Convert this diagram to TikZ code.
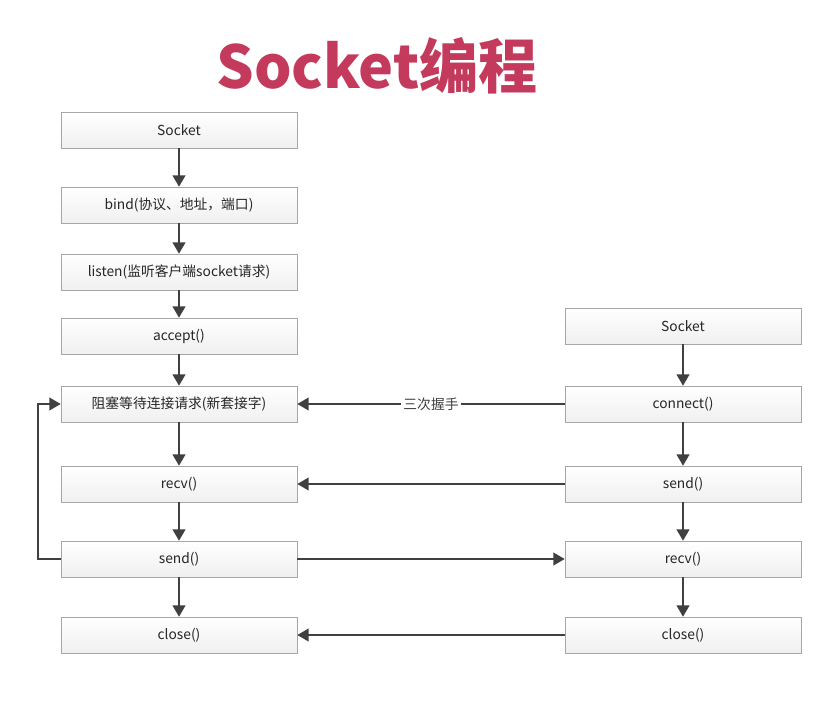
\documentclass[tikz,border=0pt]{standalone}
\usepackage{fontspec}
\setmainfont{Noto Sans CJK SC}
\usetikzlibrary{arrows.meta,shadows}
\definecolor{titlered}{RGB}{196,58,92}
\definecolor{linegray}{RGB}{64,64,64}
\tikzset{
  box/.style={draw=gray!70, top color=white, bottom color=gray!12,
    minimum width=5.9cm, minimum height=0.9cm, inner sep=0pt,
    font=\fontsize{9.8}{11}\selectfont, text=black!85,
    drop shadow={shadow xshift=0.3pt, shadow yshift=-0.6pt, opacity=0.25}},
  arr/.style={draw=linegray, line width=1.2pt,
    -{Triangle[length=8pt,width=9pt]}}
}
\begin{document}
\begin{tikzpicture}[x=0.025cm, y=-0.025cm]
  \useasboundingbox (0,0) rectangle (840,703);

  % Titel
  \node[text=titlered, font=\fontsize{42}{42}\selectfont\bfseries] (title) at (377,66) {Socket编程};

  % Server
  \node[box] (ssock)   at (179,130) {Socket};
  \node[box] (sbind)   at (179,205) {bind(协议、地址，端口)};
  \node[box] (slisten) at (179,272) {listen(监听客户端socket请求)};
  \node[box] (saccept) at (179,336) {accept()};
  \node[box] (sblock)  at (179,404) {阻塞等待连接请求(新套接字)};
  \node[box] (srecv)   at (179,484) {recv()};
  \node[box] (ssend)   at (179,559) {send()};
  \node[box] (sclose)  at (179,635) {close()};

  % Client
  \node[box] (csock)    at (683,326) {Socket};
  \node[box] (cconnect) at (683,404) {connect()};
  \node[box] (csend)    at (683,484) {send()};
  \node[box] (crecv)    at (683,559) {recv()};
  \node[box] (cclose)   at (683,635) {close()};

  % Server Ablauf
  \draw[arr] (ssock) -- (sbind);
  \draw[arr] (sbind) -- (slisten);
  \draw[arr] (slisten) -- (saccept);
  \draw[arr] (saccept) -- (sblock);
  \draw[arr] (sblock) -- (srecv);
  \draw[arr] (srecv) -- (ssend);
  \draw[arr] (ssend) -- (sclose);

  % Client Ablauf
  \draw[arr] (csock) -- (cconnect);
  \draw[arr] (cconnect) -- (csend);
  \draw[arr] (csend) -- (crecv);
  \draw[arr] (crecv) -- (cclose);

  % Verbindungen
  \draw[arr] (cconnect) -- node[fill=white, inner sep=2pt, font=\fontsize{9.8}{11}\selectfont, text=black!75] (shake) {三次握手} (sblock);
  \draw[arr] (csend) -- (srecv);
  \draw[arr] (ssend) -- (crecv);
  \draw[arr] (cclose) -- (sclose);

  % Schleife
  \coordinate (loop) at (38,559);
  \draw[arr] (ssend.west) -- (loop) |- (sblock.west);
\end{tikzpicture}
\end{document}
